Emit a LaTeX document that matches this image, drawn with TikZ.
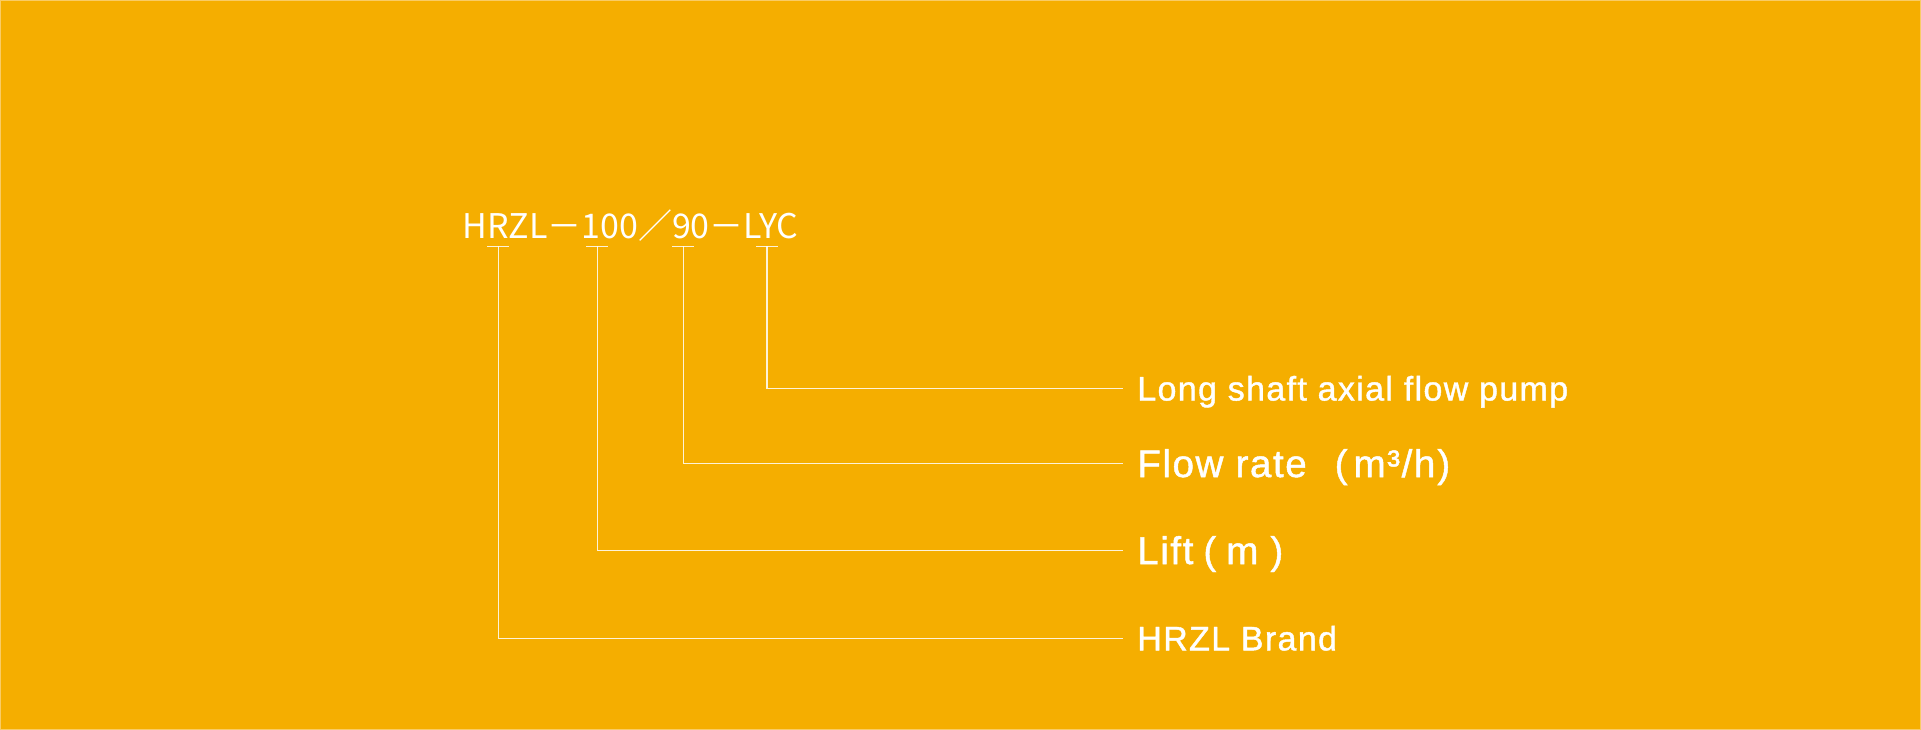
\documentclass[tikz,border=0pt]{standalone}
\usepackage{fontspec}
\setmainfont{Liberation Sans}[LetterSpace=4, FakeBold=1.2]
\newfontfamily\cjkfont{Noto Sans CJK SC}
\definecolor{pumpbg}{HTML}{F5AE00}
\definecolor{pumpedge}{HTML}{F9CC66}
\tikzset{
  tick/.style={draw=white, draw opacity=0.85, line width=0.65pt},
  lead/.style={draw=white, draw opacity=0.85, line width=0.65pt},
  lbl/.style={anchor=west, text=white, inner xsep=7pt, inner ysep=0pt,
    text height=12.2pt, text depth=0pt, font=\fontsize{17}{20}\selectfont},
  lblbig/.style={lbl, text height=13.8pt, font=\fontsize{19.3}{22}\selectfont},
}

\begin{document}
\begin{tikzpicture}[x=0.5pt,y=-0.5pt]
\fill[pumpbg, draw=pumpedge, line width=0.5pt] (0,0) rectangle (1921,729);
\useasboundingbox (0,0) rectangle (1921,729);
% model code
\node[anchor=base west, inner sep=0pt, text=white,
  font=\cjkfont\fontsize{17}{20}\selectfont] (code) at (462,238) {HRZL－100／90－LYC};
% ticks under each part
\foreach \x/\n in {498/1, 597/2, 683/3, 767/4} {
  \coordinate (t\n) at (\x,246);
  \draw[tick] (\x-11,246) -- (\x+11,246);
}
% labels
\node[lbl] (pump) at (1123,388) {Long shaft axial flow pump};
\node[lblbig] (flow) at (1123,463) {Flow rate\hspace{14pt}(\hspace{3pt}m³/h\hspace{1pt})};
\node[lblbig] (lift) at (1123,550) {Lift\hspace{5pt}(\hspace{5pt}m\hspace{6pt})};
\node[lbl] (brand) at (1123,638) {HRZL Brand};
% leaders
\draw[lead] (t4) |- (pump.west);
\draw[lead] (t3) |- (flow.west);
\draw[lead] (t2) |- (lift.west);
\draw[lead] (t1) |- (brand.west);
\end{tikzpicture}
\end{document}
